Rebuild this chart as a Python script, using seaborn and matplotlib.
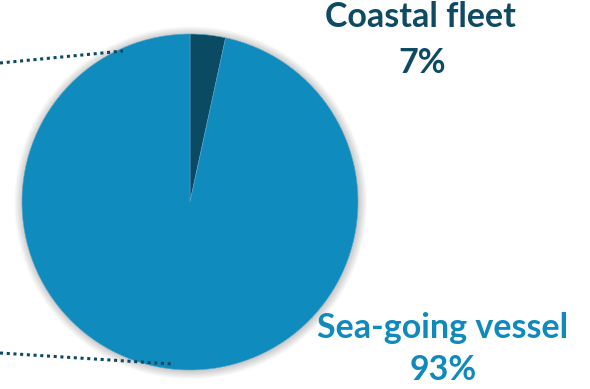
import matplotlib.pyplot as plt
import matplotlib.patches as mpatches
import seaborn as sns

sns.set_style("white")
plt.rcParams['font.family'] = ['Lato', 'DejaVu Sans']

# --- Data ---
categories = ['Coastal fleet', 'Sea-going vessel']
shares = [3.4, 96.6]          # wedge sizes as drawn
share_labels = ['7%', '93%']  # labels as printed
colors = ['#0b4a63', '#0f8bbd']
text_colors = ['#0d4a64', '#1089bd']

# --- Figure: pixel-like coordinates, pie centre at (190, 202), r = 168 px ---
W, H = 590, 389
cx, cy, r = 190, 202, 168


def px(x, y):
    return (x - cx) / r, (cy - y) / r


fig = plt.figure(figsize=(W / 100, H / 100), dpi=100)
ax = fig.add_axes([0, 0, 1, 1])

# soft shadow behind pie
for i in range(10):
    ax.add_patch(mpatches.Circle((0.004, -0.004), 1 + 0.005 * (i + 1),
                                 color='black', alpha=0.018, lw=0, zorder=0))

wedges, _ = ax.pie(shares, colors=colors, startangle=90, counterclock=False,
                   radius=1, wedgeprops=dict(edgecolor='#5aa6c6', linewidth=0.4))
for w in wedges:
    w.set_zorder(2)

ax.set_xlim(-cx / r, (W - cx) / r)
ax.set_ylim((cy - H) / r, cy / r)
ax.set_aspect('equal')
ax.axis('off')

# dotted leader lines coming from the left
leaders = [((0, 63), (123, 51)), ((0, 353), (173, 364))]
for (x0, y0), (x1, y1) in leaders:
    p0, p1 = px(x0, y0), px(x1, y1)
    ax.plot([p0[0], p1[0]], [p0[1], p1[1]], ls=(0, (1, 1.2)), lw=2.2,
            color='#0b4a63', zorder=3, solid_capstyle='butt')

# labels
label_pos = [((420, 17), (422, 63)), ((443, 328), (443, 370))]
for name, pct, col, ((nx, ny), (vx, vy)) in zip(categories, share_labels,
                                                 text_colors, label_pos):
    ax.text(*px(nx, ny), name, ha='center', va='center', fontsize=24.5,
            fontweight='bold', color=col)
    ax.text(*px(vx, vy), pct, ha='center', va='center', fontsize=24.5,
            fontweight='bold', color=col)

plt.savefig('out.png', dpi=100)
